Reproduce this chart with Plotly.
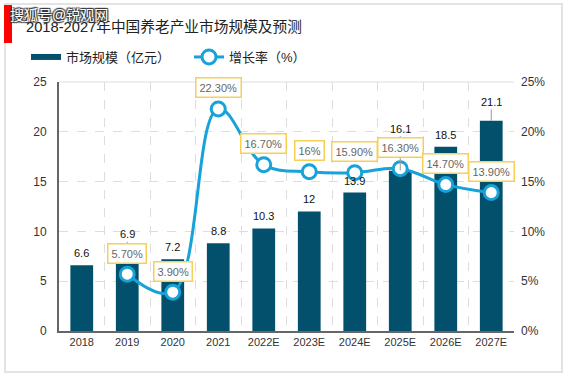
import plotly.graph_objects as go

years = ["2018", "2019", "2020", "2021", "2022E", "2023E", "2024E", "2025E", "2026E", "2027E"]
market_size = [6.6, 6.9, 7.2, 8.8, 10.3, 12, 13.9, 16.1, 18.5, 21.1]
growth_rate = [None, 5.7, 3.9, 22.3, 16.7, 16, 15.9, 16.3, 14.7, 13.9]
growth_labels = [None, "5.70%", "3.90%", "22.30%", "16.70%", "16%", "15.90%", "16.30%", "14.70%", "13.90%"]
right_ticks = [0, 5, 10, 15, 20, 25]
right_tick_labels = ["0%", "5%", "10%", "15%", "20%", "25%"]

FONT = "Liberation Sans, Arial, Noto Sans CJK SC"
BAR_COLOR = "#02506C"
LINE_COLOR = "#17A2D9"
W, H = 568, 378
L, R, T, B = 59, 54, 82, 47
pw, ph = W - L - R, H - T - B

def px(x):
    return (x - L) / pw

def py(y):
    return (H - B - y) / ph

fig = go.Figure()
fig.add_trace(go.Bar(
    x=years, y=market_size, name="市场规模（亿元）",
    marker=dict(color=BAR_COLOR, line=dict(width=0)), width=0.5,
    yaxis="y", showlegend=False,
))
# legend stand-in for the bar series (wide flat swatch like the reference)
fig.add_trace(go.Scatter(
    x=[None], y=[None], name="市场规模（亿元）", mode="lines",
    line=dict(color=BAR_COLOR, width=6), yaxis="y",
))
fig.add_trace(go.Scatter(
    x=years, y=growth_rate, name="增长率（%）", mode="lines+markers",
    line=dict(color=LINE_COLOR, width=3, shape="spline", smoothing=1.1),
    marker=dict(size=14, color="white", line=dict(color=LINE_COLOR, width=3)),
    yaxis="y2", connectgaps=False,
))

annotations = []
# bar value labels (some lifted above the rate boxes, with a leader line)
extra_shift = {"2019": 16, "2025E": 30, "2027E": 7}
for i, (yr, v) in enumerate(zip(years, market_size)):
    s = 12 + extra_shift.get(yr, 0)
    annotations.append(dict(x=i, y=v, xref="x", yref="y", text=str(v), showarrow=False,
                            yshift=s, font=dict(family=FONT, size=11, color="#111")))
    if yr in extra_shift:
        annotations.append(dict(x=i, y=v, xref="x", yref="y", ax=0, ay=-(s - 6), text="",
                                showarrow=True, arrowhead=0, arrowwidth=1, arrowcolor="#999",
                                standoff=0))
# growth labels
for i, (v, t) in enumerate(zip(growth_rate, growth_labels)):
    if v is None:
        continue
    annotations.append(dict(x=i, y=v, xref="x", yref="y2", text=t, showarrow=False,
                            yshift=21, bgcolor="white", bordercolor="#F7CF55", borderwidth=1.5,
                            borderpad=3, font=dict(family=FONT, size=11, color="#666")))
# title & watermark
annotations.append(dict(xref="paper", yref="paper", x=px(24), y=py(27), xanchor="left", yanchor="middle",
                        text="2018-2027年中国养老产业市场规模及预测", showarrow=False,
                        font=dict(family=FONT, size=14.7, color="#222")))
annotations.append(dict(xref="paper", yref="paper", x=px(8), y=py(15), xanchor="left", yanchor="middle",
                        text="搜狐号@锐观网", showarrow=False,
                        font=dict(family=FONT, size=14, color="white",
                                  shadow="1px 1px 1px #333, -1px -1px 1px #333, 1px -1px 1px #333, -1px 1px 1px #333")))

shapes = [
    dict(type="rect", xref="paper", yref="paper", x0=px(5), x1=px(562), y0=py(4), y1=py(372),
         line=dict(color="#E3E3E3", width=2), fillcolor="rgba(0,0,0,0)", layer="below"),
    dict(type="rect", xref="paper", yref="paper", x0=px(4), x1=px(12), y0=py(5), y1=py(43),
         line=dict(width=0), fillcolor="#FF0000"),
    dict(type="line", xref="paper", yref="paper", x0=0, x1=1, y0=1, y1=1,
         line=dict(color="#DDDDDD", width=1)),
]

fig.update_layout(
    width=W, height=H, margin=dict(l=L, r=R, t=T, b=B, autoexpand=False),
    paper_bgcolor="white", plot_bgcolor="white",
    font=dict(family=FONT, size=11, color="#333"),
    showlegend=True,
    legend=dict(orientation="h", x=px(26), y=py(57), xanchor="left", yanchor="middle",
                font=dict(family=FONT, size=13, color="#222"), itemwidth=30,
                entrywidth=118, entrywidthmode="pixels",
                traceorder="normal", bgcolor="rgba(0,0,0,0)"),
    xaxis=dict(type="category", range=[-0.5, len(years) - 0.5], tickson="boundaries",
               showgrid=True, gridcolor="#DDDDDD", automargin=False,
               griddash="dash", gridwidth=1, showline=True, linecolor="#666", linewidth=2,
               ticks="", tickfont=dict(size=11, color="#333"), tickangle=0),
    yaxis=dict(range=[0, 25], dtick=5, showgrid=True, gridcolor="#DDDDDD", griddash="dash",
               showline=True, linecolor="#666", linewidth=2, zeroline=False, ticks="",
               automargin=False, ticklabelstandoff=8,
               tickfont=dict(size=12, color="#333")),
    yaxis2=dict(range=[0, 25], overlaying="y", side="right", tickvals=right_ticks,
                ticktext=right_tick_labels, showgrid=False, zeroline=False, showline=False,
                automargin=False, ticklabelstandoff=6,
                tickfont=dict(size=12, color="#333")),
    annotations=annotations, shapes=shapes,
    bargap=0.5,
)

fig.write_html("out.html", config={"displayModeBar": False},
               post_script="document.body.style.margin='0px';")
